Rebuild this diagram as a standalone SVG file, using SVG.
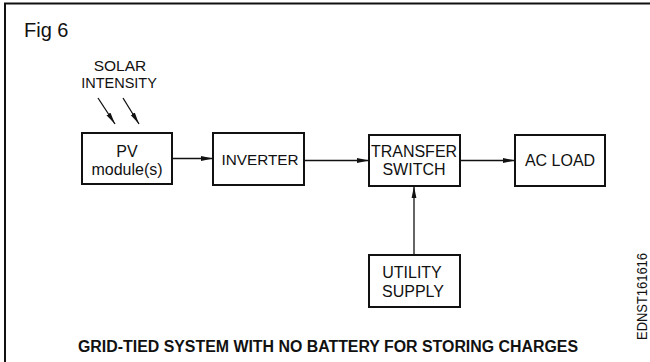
<svg xmlns="http://www.w3.org/2000/svg" width="650" height="362" viewBox="0 0 650 362">
<defs>
<style>
.box{fill:#fff;stroke:#111;stroke-width:2}
.t{font-family:"Liberation Sans",Arial,sans-serif;font-size:16px;fill:#111;text-anchor:middle}
.c{stroke:#111;stroke-width:1.3;fill:none;marker-end:url(#ah)}
</style>
<marker id="ah" viewBox="0 0 12 6" refX="12" refY="3" markerWidth="12" markerHeight="6" markerUnits="userSpaceOnUse" orient="auto">
<path d="M0,0.6 L12,3 L0,5.4 Z" fill="#111"/>
</marker>
</defs>
<rect width="650" height="362" fill="#fff"/>
<path d="M5,362 V3.5 H650" fill="none" stroke="#111" stroke-width="2"/>
<text x="24" y="37" style="font-family:'Liberation Sans',Arial,sans-serif;font-size:20px;fill:#111">Fig 6</text>
<g id="solar">
<text class="t" x="120" y="71" style="font-size:15.5px">SOLAR</text>
<text class="t" x="119" y="88" style="font-size:14.5px">INTENSITY</text>
</g>
<g id="pv">
<rect class="box" x="82" y="133" width="90" height="51"/>
<text class="t" x="127" y="157">PV</text>
<text class="t" x="127" y="175">module(s)</text>
</g>
<g id="inverter">
<rect class="box" x="213" y="133" width="91" height="52"/>
<text class="t" x="260" y="165" style="font-size:15.3px">INVERTER</text>
</g>
<g id="transfer">
<rect class="box" x="369" y="135" width="91" height="51"/>
<text class="t" x="414" y="157">TRANSFER</text>
<text class="t" x="414" y="175">SWITCH</text>
</g>
<g id="acload">
<rect class="box" x="515" y="135" width="90" height="51"/>
<text class="t" x="560" y="166">AC LOAD</text>
</g>
<g id="utility">
<rect class="box" x="369" y="255" width="91" height="52"/>
<text class="t" x="412" y="278">UTILITY</text>
<text class="t" x="413" y="297">SUPPLY</text>
</g>
<g id="connectors">
<line class="c" x1="98" y1="98" x2="115" y2="124"/>
<line class="c" x1="123" y1="98" x2="139" y2="124"/>
<line class="c" x1="172" y1="158.5" x2="213" y2="158.5"/>
<line class="c" x1="304" y1="160.5" x2="369" y2="160.5"/>
<line class="c" x1="460" y1="160.5" x2="515" y2="160.5"/>
<line class="c" x1="414" y1="255" x2="414" y2="186"/>
</g>
<text x="328" y="352" textLength="500" lengthAdjust="spacingAndGlyphs" style="font-family:'Liberation Sans',Arial,sans-serif;font-size:16px;font-weight:bold;fill:#111;text-anchor:middle">GRID-TIED SYSTEM WITH NO BATTERY FOR STORING CHARGES</text>
<text transform="translate(647,296.5) rotate(-90)" textLength="87" lengthAdjust="spacingAndGlyphs" style="font-family:'Liberation Sans',Arial,sans-serif;font-size:14px;fill:#111;text-anchor:middle">EDNST161616</text>
</svg>
